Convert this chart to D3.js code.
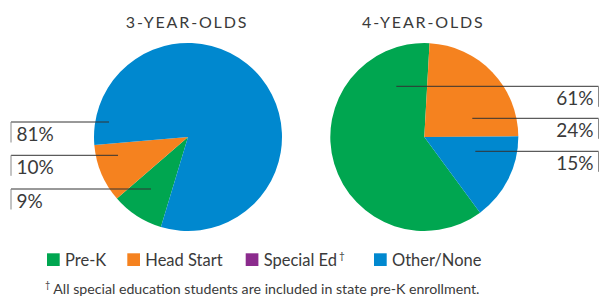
<!DOCTYPE html>
<html><head><meta charset="utf-8">
<script src="https://cdn.jsdelivr.net/npm/d3@7"></script>
<style>body{margin:0;background:#fff}svg{display:block}</style>
</head><body>
<svg id="c" width="599" height="297"></svg>
<script>
// ---- data ----
const categories = ["Pre-K", "Head Start", "Special Ed", "Other/None"];
const threeYearOlds = [9, 10, 0, 81];
const fourYearOlds = [61, 24, 0, 15];
const pieTitles = ["3-YEAR-OLDS", "4-YEAR-OLDS"];
const legendLabels = ["Pre-K", "Head Start", "Special Ed", "Other/None"];
const footnoteText = "All special education students are included in state pre-K enrollment.";
const colors = ["#00a650", "#f5821f", "#8b2b8d", "#0088cf"];

// ---- layout ----
const W = 599, H = 297, R = 94;
const FONT = "Lato, 'Open Sans', sans-serif";
const TXT = "#3a3a3a";
const pies = [
  { values: threeYearOlds, title: pieTitles[0], cx: 188, cy: 137, start: 196.75,
    side: "left", order: [3, 1, 0], rowDy: [-15, 18.3, 52], anchorDx: [-79, -70, -37] },
  { values: fourYearOlds, title: pieTitles[1], cx: 424.3, cy: 137, start: 143.6,
    side: "right", order: [0, 1, 3], rowDy: [-50.7, -18.7, 14.3], anchorDx: [-28, 48, 51] }
];

const svg = d3.select("#c");
const color = d3.scaleOrdinal().domain(categories).range(colors);
const arc = d3.arc().innerRadius(0).outerRadius(R);
const toRad = a => a * Math.PI / 180;

pies.forEach(p => {
  const data = categories.map((c, i) => ({ cat: c, value: p.values[i] }));
  const pie = d3.pie().sort(null).value(d => d.value)
    .startAngle(toRad(p.start)).endAngle(toRad(p.start) + 2 * Math.PI);
  const g = svg.append("g").attr("transform", `translate(${p.cx},${p.cy})`);
  g.selectAll("path").data(pie(data).filter(d => d.data.value > 0)).join("path")
    .attr("d", arc).attr("fill", d => color(d.data.cat));

  svg.append("text").attr("x", p.cx - 1).attr("y", 27.7).attr("text-anchor", "middle")
    .attr("font-family", FONT).attr("font-size", 16)
    .attr("letter-spacing", 1.85).attr("fill", TXT)
    .text(p.title);

  p.order.forEach((ci, k) => {
    const y = p.cy + p.rowDy[k];
    const ax = p.cx + p.anchorDx[k];
    const edge = p.side === "left" ? 11 : 598.5;
    svg.append("line").attr("x1", edge).attr("x2", ax).attr("y1", y).attr("y2", y)
      .attr("stroke", "#333").attr("stroke-width", 1);
    svg.append("line").attr("x1", edge).attr("x2", edge).attr("y1", y).attr("y2", y + 20.5)
      .attr("stroke", "#888").attr("stroke-width", 1);
    svg.append("text")
      .attr("x", p.side === "left" ? 16.5 : 593.5).attr("y", y + 19)
      .attr("text-anchor", p.side === "left" ? "start" : "end")
      .attr("font-family", FONT).attr("font-size", 19).attr("fill", TXT)
      .text(p.values[ci] + "%");
  });
});

// legend
const legX = [47, 127.3, 245.7, 374];
const leg = svg.append("g");
legendLabels.forEach((l, i) => {
  leg.append("rect").attr("x", legX[i]).attr("y", 253.3).attr("width", 12.7).attr("height", 12.7)
    .attr("fill", color(categories[i]));
  const t = leg.append("text").attr("x", legX[i] + 18).attr("y", 266)
    .attr("font-family", FONT).attr("font-size", 16.5).attr("fill", TXT).text(l);
  if (categories[i] === "Special Ed") {
    t.append("tspan").attr("font-size", 10).attr("dy", -7).attr("dx", 2).text("†");
  }
});

// footnote
const fn = svg.append("text").attr("x", 45).attr("y", 294)
  .attr("font-family", FONT).attr("font-size", 14.2).attr("fill", TXT);
fn.append("tspan").attr("font-size", 9).attr("dy", -6).text("†");
fn.append("tspan").attr("dy", 6).attr("dx", 3).text(footnoteText);
</script>
</body></html>
